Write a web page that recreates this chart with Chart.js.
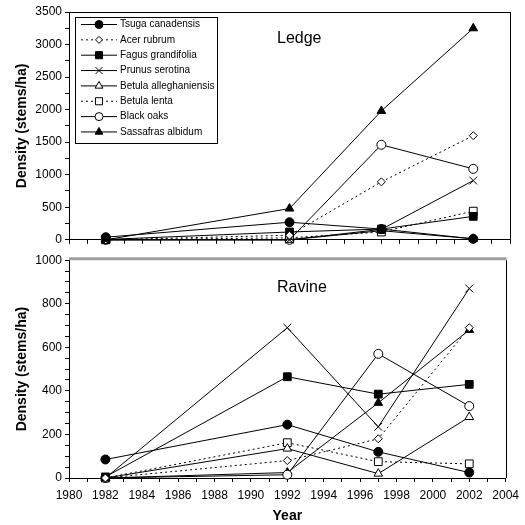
<!DOCTYPE html>
<html>
<head>
<meta charset="utf-8">
<script src="https://cdn.jsdelivr.net/npm/chart.js@4/dist/chart.umd.min.js"></script>
<style>
  html, body { margin: 0; padding: 0; background: #fff; }
  #wrap { position: relative; width: 525px; height: 525px; }
  canvas { position: absolute; left: 0; }
  #top { top: 0; }
  #bot { top: 250px; }
</style>
</head>
<body>
<div id="wrap">
  <canvas id="top" width="525" height="250"></canvas>
  <canvas id="bot" width="525" height="275"></canvas>
</div>
<script>
// ---- data ----
const years = [1982, 1992, 1997, 2002];
const species = ["Tsuga canadensis", "Acer rubrum", "Fagus grandifolia", "Prunus serotina",
                 "Betula alleghaniensis", "Betula lenta", "Black oaks", "Sassafras albidum"];

// Ledge (stems/ha)
const ledgeTsuga     = [40, 270, 165, 15];
const ledgeAcer      = [0, 70, 890, 1600];
const ledgeFagus     = [5, 120, 165, 360];
const ledgePrunus    = [0, 0, 160, 910];
const ledgeBetAlle   = [0, 0, 140, 15];
const ledgeBetLenta  = [0, 30, 120, 440];
const ledgeBlackOaks = [0, 0, 1460, 1090];
const ledgeSassafras = [0, 480, 1980, 3250];

// Ravine (stems/ha)
const ravineTsuga     = [85, 245, 120, 25];
const ravineAcer      = [0, 80, 180, 690];
const ravineFagus     = [5, 465, 385, 430];
const ravinePrunus    = [0, 690, 235, 870];
const ravineBetAlle   = [0, 135, 20, 280];
const ravineBetLenta  = [0, 162, 75, 65];
const ravineBlackOaks = [0, 15, 570, 330];
const ravineSassafras = [0, 25, 345, 680];

const xTicksMin = 1980, xTicksMax = 2004;
const ledgeMax = 3500, ravineMax = 1000;

// ---- styles ----
const styles = [
  { pointStyle: 'circle',   radius: 4.5, fill: '#000', dash: [] },
  { pointStyle: 'rectRot',  radius: 4,   fill: '#fff', dash: [2, 3] },
  { pointStyle: 'rect',     radius: 5.5, fill: '#000', dash: [] },
  { pointStyle: 'crossRot', radius: 5.5, fill: '#fff', dash: [] },
  { pointStyle: 'triangle', radius: 5,   fill: '#fff', dash: [] },
  { pointStyle: 'rect',     radius: 5.5, fill: '#fff', dash: [2, 3] },
  { pointStyle: 'circle',   radius: 4.5, fill: '#fff', dash: [] },
  { pointStyle: 'triangle', radius: 5,   fill: '#000', dash: [] }
];

function makeDatasets(seriesList) {
  return seriesList.map((vals, i) => ({
    label: species[i],
    data: years.map((yr, j) => ({ x: yr, y: vals[j] })),
    borderColor: '#000',
    borderWidth: 1,
    borderDash: styles[i].dash,
    pointStyle: styles[i].pointStyle,
    pointRadius: styles[i].radius,
    pointHoverRadius: styles[i].radius,
    pointBackgroundColor: styles[i].fill,
    pointBorderColor: '#000',
    pointBorderWidth: 1,
    backgroundColor: styles[i].fill,
    fill: false,
    tension: 0,
    clip: false
  }));
}

const FONT = "Arial, 'Liberation Sans', Helvetica, sans-serif";

// plugin: frame, panel label, legend
const framePlugin = {
  id: 'frame',
  afterDraw(chart, args, opts) {
    const { ctx, chartArea: a } = chart;
    ctx.save();
    // right border
    ctx.strokeStyle = '#000';
    ctx.lineWidth = 1;
    ctx.beginPath();
    ctx.moveTo(Math.round(a.right) + 0.5, a.top);
    ctx.lineTo(Math.round(a.right) + 0.5, a.bottom);
    ctx.stroke();
    // top border
    if (opts.grayTop) {
      ctx.strokeStyle = '#a0a0a0';
      ctx.lineWidth = 3;
      ctx.beginPath();
      ctx.moveTo(a.left, a.top - 1.5);
      ctx.lineTo(a.right + 1, a.top - 1.5);
      ctx.stroke();
    } else {
      ctx.beginPath();
      ctx.moveTo(a.left, Math.round(a.top) + 0.5);
      ctx.lineTo(a.right + 1, Math.round(a.top) + 0.5);
      ctx.stroke();
    }
    // panel label
    ctx.fillStyle = '#000';
    ctx.font = '16px ' + FONT;
    ctx.textAlign = 'left';
    ctx.textBaseline = 'middle';
    ctx.fillText(opts.label, a.left + 208, a.top + opts.labelDy);

    // legend
    if (opts.legend) {
      const bx = a.left + 6, by = a.top + 5, bw = 142, bh = 126;
      ctx.fillStyle = '#fff';
      ctx.fillRect(bx, by, bw, bh);
      ctx.strokeStyle = '#000';
      ctx.lineWidth = 1;
      ctx.strokeRect(bx + 0.5, by + 0.5, bw, bh);
      chart.data.datasets.forEach((ds, i) => {
        const y = by + 7.5 + i * 15.35;
        ctx.save();
        ctx.strokeStyle = '#000';
        ctx.lineWidth = 1;
        ctx.setLineDash(ds.borderDash || []);
        ctx.beginPath();
        ctx.moveTo(bx + 6, y);
        ctx.lineTo(bx + 42, y);
        ctx.stroke();
        ctx.restore();
        ctx.save();
        ctx.fillStyle = ds.pointBackgroundColor;
        ctx.strokeStyle = '#000';
        ctx.lineWidth = 1;
        Chart.helpers.drawPoint(ctx, {
          pointStyle: ds.pointStyle, radius: ds.pointRadius - 0.5, rotation: 0, borderWidth: 1
        }, bx + 24, y);
        ctx.restore();
        ctx.fillStyle = '#000';
        ctx.font = '10px ' + FONT;
        ctx.textAlign = 'left';
        ctx.textBaseline = 'middle';
        ctx.fillText(ds.label, bx + 45, y);
      });
    }
    ctx.restore();
  }
};

function baseOptions(yMax, yStep, yMajor, isBottom, pluginOpts) {
  return {
    responsive: false,
    animation: false,
    devicePixelRatio: 1,
    events: [],
    layout: { padding: { left: 0, right: 15, top: isBottom ? 6 : 12, bottom: 0 } },
    plugins: { legend: { display: false }, tooltip: { enabled: false }, frame: pluginOpts },
    scales: {
      x: {
        type: 'linear',
        min: xTicksMin, max: xTicksMax,
        border: { display: true, color: '#000', width: 1 },
        grid: { drawOnChartArea: false, drawTicks: true, tickLength: 4, color: '#000', tickColor: '#000' },
        ticks: {
          stepSize: 1, autoSkip: false, maxRotation: 0, color: '#000', padding: 6,
          font: { family: FONT, size: 12 },
          callback: (v) => (isBottom && v % 2 === 0) ? String(v) : ''
        },
        title: {
          display: isBottom, text: 'Year', color: '#000',
          font: { family: FONT, size: 14, weight: 'bold' },
          padding: { top: 0, bottom: 0 }
        },
        afterFit: (s) => { s.height = isBottom ? 47 : 6; }
      },
      y: {
        min: 0, max: yMax,
        border: { display: true, color: '#000', width: 1 },
        grid: { drawOnChartArea: false, drawTicks: true, tickLength: 4, color: '#000', tickColor: '#000' },
        ticks: {
          stepSize: yStep, autoSkip: false, color: '#000', padding: 3,
          font: { family: FONT, size: 12 },
          callback: (v) => (v % yMajor === 0) ? String(v) : ''
        },
        title: {
          display: true, text: 'Density (stems/ha)', color: '#000',
          font: { family: FONT, size: 14, weight: 'bold' },
          padding: { top: 14, bottom: 0 }
        },
        afterFit: (s) => { s.width = 69; }
      }
    }
  };
}

new Chart(document.getElementById('top'), {
  type: 'line',
  data: { datasets: makeDatasets([ledgeTsuga, ledgeAcer, ledgeFagus, ledgePrunus,
                                  ledgeBetAlle, ledgeBetLenta, ledgeBlackOaks, ledgeSassafras]) },
  options: baseOptions(ledgeMax, 250, 500, false, { label: 'Ledge', labelDy: 27, legend: true }),
  plugins: [framePlugin]
});

new Chart(document.getElementById('bot'), {
  type: 'line',
  data: { datasets: makeDatasets([ravineTsuga, ravineAcer, ravineFagus, ravinePrunus,
                                  ravineBetAlle, ravineBetLenta, ravineBlackOaks, ravineSassafras]) },
  options: baseOptions(ravineMax, 50, 200, true, { label: 'Ravine', labelDy: 27, legend: false, grayTop: true }),
  plugins: [framePlugin]
});
</script>
</body>
</html>
